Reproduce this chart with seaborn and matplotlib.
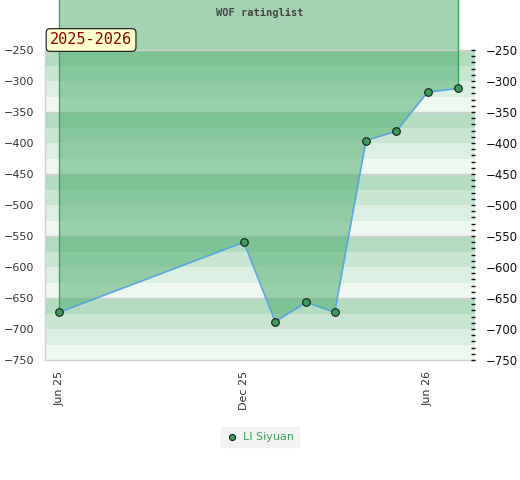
import pandas as pd
import numpy as np
import matplotlib
matplotlib.use('Agg')
import matplotlib.pyplot as plt
import matplotlib.dates as mdates
import seaborn as sns

# data
dates = ['2025-06-01', '2025-12-01', '2026-01-01', '2026-02-01', '2026-03-01',
         '2026-04-01', '2026-05-01', '2026-06-01', '2026-07-01']
rating = [-673, -560, -688, -657, -673, -396, -381, -318, -312]
player = 'LI Siyuan'
title = 'WOF ratinglist'
season = '2025-2026'

df = pd.DataFrame({'date': pd.to_datetime(dates), 'rating': rating})

sns.set_style('white')
plt.rcParams['font.family'] = ['DejaVu Sans']

fig = plt.figure(figsize=(5.2, 4.8), dpi=100)
ax = fig.add_axes([45 / 520, 1 - 360 / 480, 430 / 520, 310 / 480])

ymin, ymax = -750, -250
ax.set_ylim(ymin, ymax)
ax.set_xlim(pd.Timestamp('2025-05-18'), pd.Timestamp('2026-07-18'))

# striped background, 4 shades repeating every 100
shades = ['#b4dcc1', '#c9e6d3', '#dcefe3', '#eff7f1']
for i, lo in enumerate(range(ymax, ymin, -25)):
    ax.axhspan(lo - 25, lo, color=shades[i % 4], lw=0, zorder=0)
for g in range(ymax - 100, ymin, -100):
    ax.axhline(g, color='#cfcfcf', lw=1, zorder=1)

# area above the line, running out past the top of the axes
fill_top = -100
green_fill = '#47ab67'
ax.fill_between(df['date'], df['rating'], fill_top, color=green_fill, alpha=0.5,
                lw=0, zorder=2, clip_on=False)
for i in (0, -1):
    ax.plot([df['date'].iloc[i]] * 2, [df['rating'].iloc[i], fill_top],
            color='#3aa55c', lw=1, zorder=3, clip_on=False)

sns.lineplot(data=df, x='date', y='rating', ax=ax, color='#5aa8e0', lw=1.2, zorder=4)
sns.scatterplot(data=df, x='date', y='rating', ax=ax, color='#3a9d5a', s=30,
                edgecolor='#1a1a1a', linewidth=0.8, zorder=5, clip_on=False,
                label=player)

for s in ['top', 'bottom', 'left']:
    ax.spines[s].set_color('#d0d0d0')
    ax.spines[s].set_linewidth(1)
ax.spines['right'].set_visible(False)

ax.set_xlabel('')
ax.set_ylabel('')
ax.set_yticks(range(ymin, ymax + 1, 50))
ax.tick_params(axis='y', length=0, labelsize=8, labelcolor='#333333', pad=8)

ax.xaxis.set_major_locator(mdates.MonthLocator(bymonth=[6, 12]))
ax.xaxis.set_major_formatter(mdates.DateFormatter('%b %y'))
ax.tick_params(axis='x', length=0, labelsize=8, labelcolor='#333333', rotation=90, pad=8)

# right hand axis with fine ticks
ax2 = ax.twinx()
ax2.set_ylim(ymin, ymax)
ax2.set_yticks(range(ymin, ymax + 1, 50))
ax2.set_yticks(range(ymin, ymax + 1, 10), minor=True)
ax2.tick_params(axis='y', which='both', direction='in', length=3, width=1,
                color='#111111', labelsize=8.5, labelcolor='#111111', pad=8)
for s in ax2.spines.values():
    s.set_visible(False)

# legend below the plot
handles, labels = ax.get_legend_handles_labels()
ax.get_legend().remove()
leg = fig.legend(handles, labels, loc='center', bbox_to_anchor=(260 / 520, 1 - 437 / 480),
                 frameon=True, fancybox=False, fontsize=8, handletextpad=0.5,
                 borderpad=0.45, handlelength=1.0, markerscale=0.8)
leg.get_frame().set_facecolor('#f0f0f0')
leg.get_frame().set_edgecolor('#f0f0f0')
for t in leg.get_texts():
    t.set_color('#3aa55c')

fig.text(260 / 520, 1 - 13 / 480, title, ha='center', va='center', fontsize=7.5,
         fontweight='bold', family='DejaVu Sans Mono', color='#444444')
fig.text(50 / 520, 1 - 40 / 480, season, ha='left', va='center', fontsize=11,
         family='DejaVu Sans Mono', color='#8b0000',
         bbox=dict(boxstyle='round,pad=0.25,rounding_size=0.25', fc='#ffffcc',
                   ec='#111111', lw=0.8))

fig.savefig('out.png', dpi=100)
